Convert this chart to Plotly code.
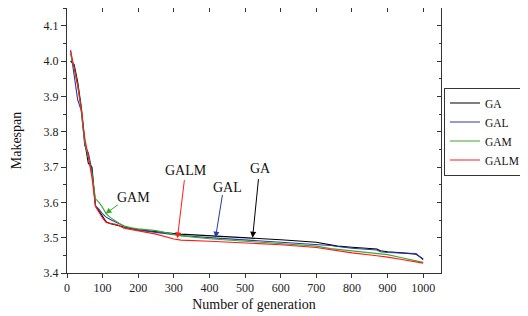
import plotly.graph_objects as go

generation = [10, 20, 30, 40, 50, 60, 70, 80, 90, 100, 110, 120, 140, 160, 180, 200,
              250, 300, 320, 400, 500, 600, 700, 740, 760, 800, 870, 880, 900, 940, 980, 1000]

ga = [4.00, 3.99, 3.94, 3.87, 3.77, 3.71, 3.70, 3.59, 3.575, 3.56, 3.545, 3.54, 3.535, 3.528,
      3.525, 3.522, 3.516, 3.512, 3.51, 3.506, 3.50, 3.494, 3.487, 3.481, 3.476, 3.473, 3.468,
      3.463, 3.460, 3.457, 3.453, 3.44]
gal = [4.03, 3.96, 3.89, 3.86, 3.76, 3.74, 3.69, 3.59, 3.58, 3.567, 3.558, 3.552, 3.542, 3.533,
       3.527, 3.522, 3.515, 3.508, 3.506, 3.50, 3.494, 3.488, 3.482, 3.478, 3.475, 3.47, 3.465,
       3.46, 3.458, 3.456, 3.455, 3.437]
gam = [4.02, 3.98, 3.93, 3.86, 3.77, 3.72, 3.68, 3.61, 3.60, 3.585, 3.568, 3.558, 3.545, 3.532,
       3.528, 3.525, 3.52, 3.51, 3.505, 3.497, 3.49, 3.483, 3.476, 3.469, 3.467, 3.463, 3.457,
       3.455, 3.452, 3.443, 3.435, 3.43]
galm = [4.03, 3.98, 3.93, 3.865, 3.78, 3.73, 3.67, 3.588, 3.57, 3.555, 3.543, 3.541, 3.537, 3.527,
        3.523, 3.52, 3.51, 3.496, 3.493, 3.49, 3.486, 3.48, 3.472, 3.466, 3.462, 3.457, 3.449,
        3.447, 3.445, 3.438, 3.432, 3.428]

series_names = ["GA", "GAL", "GAM", "GALM"]
series_values = [ga, gal, gam, galm]
colors = ["#000000", "#2a3aa8", "#3aaa2a", "#ff1a1a"]

# annotation labels: (text, head x, head y, tail x, tail y, text x, text y)
labels = ["GAM", "GALM", "GAL", "GA"]
head_x = [108, 310, 417, 521]
head_y = [3.568, 3.498, 3.50, 3.50]
tail_x = [147, 330, 437, 538]
tail_y = [3.596, 3.667, 3.625, 3.67]
text_x = [187, 333, 451, 544]
text_y = [3.613, 3.689, 3.641, 3.695]
label_colors = ["#3aaa2a", "#ff1a1a", "#2a3aa8", "#000000"]

FONT = "Liberation Serif, Times New Roman, serif"

fig = go.Figure()
for name, vals, col in zip(series_names, series_values, colors):
    fig.add_trace(go.Scatter(x=generation, y=vals, mode="lines", name=name,
                             line=dict(color=col, width=1.1)))

for t, hx, hy, tx, ty, lx, ly, c in zip(labels, head_x, head_y, tail_x, tail_y, text_x, text_y, label_colors):
    fig.add_annotation(x=hx, y=hy, ax=tx, ay=ty, xref="x", yref="y", axref="x", ayref="y",
                       text="", showarrow=True, arrowhead=2, arrowsize=1.2, arrowwidth=1,
                       arrowcolor=c)
    fig.add_annotation(x=lx, y=ly, xref="x", yref="y", text=t, showarrow=False,
                       font=dict(family=FONT, size=14, color="#111"))

axis_common = dict(showline=True, linecolor="#333", linewidth=1, showgrid=False, zeroline=False,
                   tickfont=dict(family=FONT, size=12, color="#222"), tickcolor="#333")

fig.update_layout(
    width=520, height=308,
    margin=dict(l=59, r=87, t=0, b=43, autoexpand=False),
    paper_bgcolor="white", plot_bgcolor="white",
    font=dict(family=FONT, color="#111"),
    xaxis=dict(range=[0, 1050], dtick=100, tick0=0, ticks="outside", ticklen=4, mirror=True,
               title=dict(text="Number of generation", font=dict(family=FONT, size=14), standoff=4),
               **axis_common),
    yaxis=dict(range=[3.4, 4.15], dtick=0.1, tick0=3.4, tickformat=".1f", ticks="outside", ticklen=5,
               mirror=True,
               minor=dict(ticks="outside", ticklen=3, dtick=0.05, tick0=3.4, tickcolor="#333"),
               title=dict(text="Makespan", font=dict(family=FONT, size=14), standoff=18),
               **axis_common),
    xaxis2=dict(range=[0, 1050], dtick=100, tick0=0, overlaying="x", side="top", matches="x",
                ticks="inside", ticklen=4, showticklabels=False, showline=False, showgrid=False,
                zeroline=False, tickcolor="#333"),
    yaxis2=dict(range=[3.4, 4.15], dtick=0.1, tick0=3.4, overlaying="y", side="right", matches="y",
                ticks="inside", ticklen=4, showticklabels=False, showline=False, showgrid=False,
                zeroline=False, tickcolor="#333",
                minor=dict(ticks="inside", ticklen=2, dtick=0.05, tick0=3.4, tickcolor="#333")),
    legend=dict(x=1.008, y=0.70, xanchor="left", yanchor="top",
                bordercolor="#333", borderwidth=1, bgcolor="white",
                font=dict(family=FONT, size=11.5, color="#111"),
                tracegroupgap=0, itemwidth=30),
    showlegend=True,
)
# invisible trace to activate secondary axes
fig.add_trace(go.Scatter(x=[None], y=[None], xaxis="x2", yaxis="y2", showlegend=False,
                         hoverinfo="skip"))

fig.write_html("out.html")
